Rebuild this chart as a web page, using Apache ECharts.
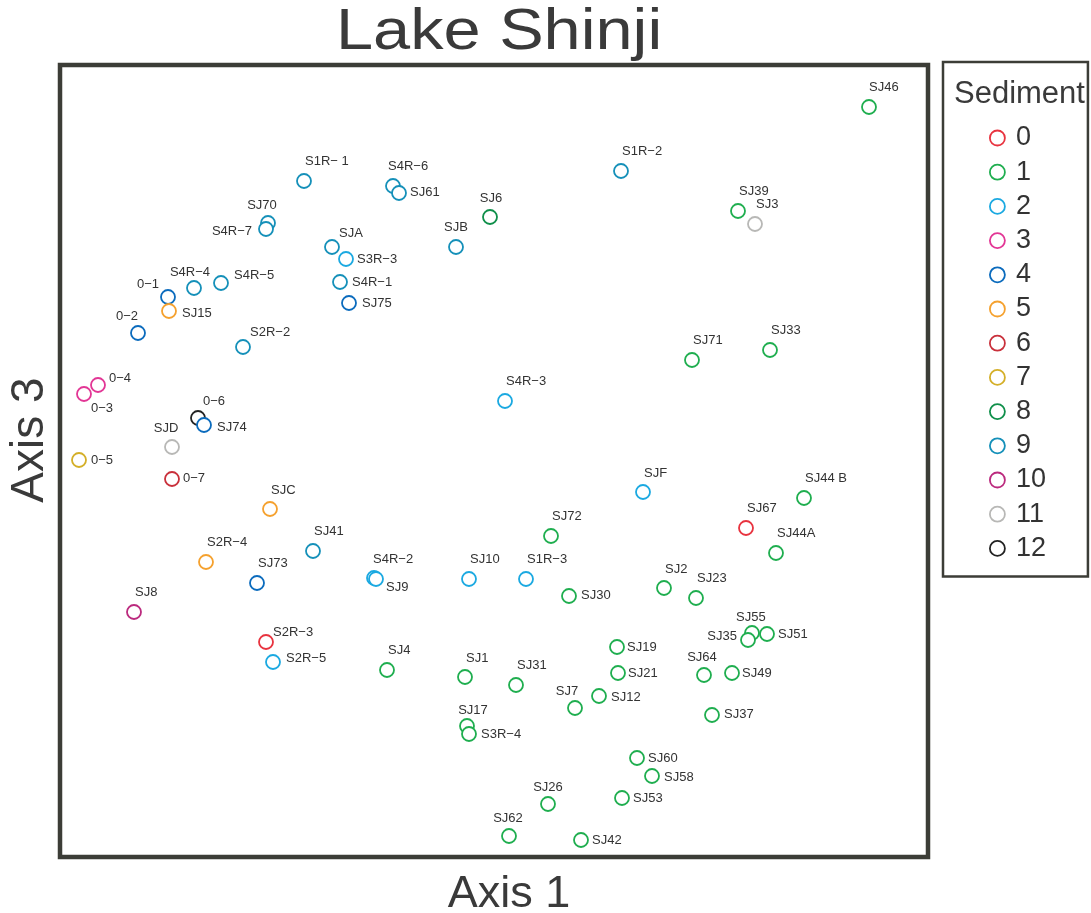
<!DOCTYPE html>
<html>
<head>
<meta charset="utf-8">
<script src="https://cdn.jsdelivr.net/npm/echarts@6/dist/echarts.min.js"></script>
<style>html,body{margin:0;padding:0;background:#fff;}#chart{width:1091px;height:913px;}</style>
</head>
<body>
<div id="chart"></div>
<script>
// ---- data (scores, arbitrary ordination units) ----
const sampleNames = ["SJ46","S1R−2","SJ39","SJ3","SJ71","SJ33","S1R− 1","S4R−6","SJ61","SJ6",
  "SJ70","S4R−7","SJB","SJA","S3R−3","S4R−1","SJ75","S4R−4","S4R−5","0−1",
  "SJ15","0−2","S2R−2","0−6","SJ74","0−4","0−3","SJD","0−5","0−7",
  "S4R−3","SJF","SJ44 B","SJ67","SJ44A","SJ72","SJC","SJ41","S2R−4","SJ73",
  "S4R−2","SJ9","SJ10","S1R−3","SJ30","SJ2","SJ23","SJ8","S2R−3","S2R−5",
  "SJ4","SJ1","SJ31","SJ19","SJ21","SJ7","SJ12","SJ55","SJ35","SJ51",
  "SJ64","SJ49","SJ37","SJ17","S3R−4","SJ60","SJ58","SJ53","SJ26","SJ62","SJ42"];
const axis1 = [809,561,678,695,632,710,244,333,339,430,
  208,206,396,272,286,280,289,134,161,108,
  109,78,183,138,144,38,24,112,19,112,
  445,583,744,686,716,491,210,253,146,197,
  314,316,409,466,509,604,636,74,206,213,
  327,405,456,557,558,515,539,692,688,707,
  644,672,652,407,409,577,592,562,488,449,521];
const axis3 = [750,686,646,633,497,507,676,671,664,640,
  634,628,610,610,598,575,554,569,574,560,
  546,524,510,439,432,472,463,410,397,378,
  456,365,359,329,304,321,348,306,295,274,
  279,278,278,278,261,269,259,245,215,195,
  187,180,172,210,184,149,161,224,217,223,
  182,184,142,131,123,99,81,59,53,21,17];
const sediment = [1,9,1,11,1,1,9,9,9,8,
  9,9,9,9,2,9,4,9,9,4,
  5,4,9,12,4,3,3,11,7,6,
  2,2,1,0,1,1,5,9,5,4,
  2,2,2,2,1,1,1,10,0,2,
  1,1,1,1,1,1,1,1,1,1,
  1,1,1,1,1,1,1,1,1,1,1];
const sedimentClasses = ["0","1","2","3","4","5","6","7","8","9","10","11","12"];

// ---- styling (label placement: [dx, dy, align] relative to marker centre) ----
const classColors = ["#e8333f","#1fae4f","#1ba9e1","#e23695","#0b6bbd","#f5a12e","#c9303b",
  "#d4af28","#0f8f4a","#1590b9","#bb2a7e","#b8b8b6","#222222"];
const labelPlacement = {
  "SJ46":[0,-20,"left"],"S1R−2":[1,-20,"left"],"SJ39":[1,-20,"left"],"SJ3":[1,-20,"left"],
  "SJ71":[1,-20,"left"],"SJ33":[1,-20,"left"],"S1R− 1":[1,-20,"left"],"S4R−6":[-5,-20,"left"],
  "SJ61":[11,-1,"left"],"SJ6":[1,-19,"center"],"SJ70":[-6,-18,"center"],"S4R−7":[-14,2,"right"],
  "SJB":[0,-20,"center"],"SJA":[7,-14,"left"],"S3R−3":[11,0,"left"],"S4R−1":[12,0,"left"],
  "SJ75":[13,0,"left"],"S4R−4":[-4,-16,"center"],"S4R−5":[13,-8,"left"],"0−1":[-9,-13,"right"],
  "SJ15":[13,2,"left"],"0−2":[0,-17,"right"],"S2R−2":[7,-15,"left"],"0−6":[5,-17,"left"],
  "SJ74":[13,2,"left"],"0−4":[11,-7,"left"],"0−3":[7,14,"left"],"SJD":[-6,-19,"center"],
  "0−5":[12,0,"left"],"0−7":[11,-1,"left"],"S4R−3":[1,-20,"left"],"SJF":[1,-19,"left"],
  "SJ44 B":[1,-20,"left"],"SJ67":[1,-20,"left"],"SJ44A":[1,-20,"left"],"SJ72":[1,-20,"left"],
  "SJC":[1,-19,"left"],"SJ41":[1,-20,"left"],"S2R−4":[1,-20,"left"],"SJ73":[1,-20,"left"],
  "S4R−2":[-1,-19,"left"],"SJ9":[10,8,"left"],"SJ10":[1,-20,"left"],"S1R−3":[1,-20,"left"],
  "SJ30":[12,-1,"left"],"SJ2":[1,-19,"left"],"SJ23":[1,-20,"left"],"SJ8":[1,-20,"left"],
  "S2R−3":[7,-10,"left"],"S2R−5":[13,-4,"left"],"SJ4":[1,-20,"left"],"SJ1":[1,-19,"left"],
  "SJ31":[1,-20,"left"],"SJ19":[10,0,"left"],"SJ21":[10,0,"left"],"SJ7":[-8,-17,"center"],
  "SJ12":[12,1,"left"],"SJ55":[-16,-16,"left"],"SJ35":[-11,-4,"right"],"SJ51":[11,0,"left"],
  "SJ64":[-2,-18,"center"],"SJ49":[10,0,"left"],"SJ37":[12,-1,"left"],"SJ17":[6,-16,"center"],
  "S3R−4":[12,0,"left"],"SJ60":[11,0,"left"],"SJ58":[12,1,"left"],"SJ53":[11,0,"left"],
  "SJ26":[0,-17,"center"],"SJ62":[-1,-18,"center"],"SJ42":[11,0,"left"]
};
const FONT = "'Liberation Sans', Arial, sans-serif";
const TXT = "#333333";

const series = sedimentClasses.map((cls, ci) => {
  const data = [];
  sampleNames.forEach((n, i) => {
    if (sediment[i] !== ci) return;
    const p = labelPlacement[n] || [10, 0, "left"];
    data.push({
      name: n,
      value: [axis1[i], axis3[i]],
      label: { offset: [p[0], p[1]], align: p[2] }
    });
  });
  return {
    name: cls,
    type: "scatter",
    symbol: "circle",
    symbolSize: 14,
    z: ci === 12 ? 1 : 2,
    itemStyle: { color: "#ffffff", borderColor: classColors[ci], borderWidth: 1.8, opacity: 1 },
    label: {
      show: true, position: "inside", formatter: "{b}", verticalAlign: "middle",
      color: TXT, fontSize: 13, fontFamily: FONT
    },
    emphasis: { disabled: true },
    data
  };
});

const chart = echarts.init(document.getElementById("chart"), null, { renderer: "canvas" });
chart.setOption({
  animation: false,
  backgroundColor: "#ffffff",
  title: [
    { text: "Sediment", left: 954, top: 79, padding: 0,
      textStyle: { fontSize: 31, fontWeight: "normal", color: "#3a3a3a", fontFamily: FONT } }
  ],
  graphic: [
    { type: "text", x: 336, y: 5, scaleX: 1.17, silent: true,
      style: { text: "Lake Shinji", fontSize: 57, fontFamily: FONT, fill: "#3a3a3a",
        align: "left", verticalAlign: "top" } }
  ],
  grid: { left: 60, top: 65, width: 868, height: 792, show: true, outerBoundsMode: "none",
    borderColor: "#3c3d37", borderWidth: 4.5, backgroundColor: "transparent", containLabel: false },
  xAxis: { type: "value", min: 0, max: 868, name: "Axis 1", nameLocation: "middle", nameGap: 15,
    nameTextStyle: { fontSize: 45, color: "#3a3a3a", fontFamily: FONT, padding: [0, 0, 0, 30] },
    axisLine: { show: false }, axisTick: { show: false }, axisLabel: { show: false }, splitLine: { show: false } },
  yAxis: { type: "value", min: 0, max: 792, name: "Axis 3", nameLocation: "middle", nameGap: 7,
    nameTextStyle: { fontSize: 46, color: "#3a3a3a", fontFamily: FONT, padding: [0, 0, 0, 42] },
    axisLine: { show: false }, axisTick: { show: false }, axisLabel: { show: false }, splitLine: { show: false } },
  legend: {
    orient: "vertical", left: 943, top: 62,
    padding: [62, 42, 14, 46],
    borderColor: "#3c3d37", borderWidth: 2.5,
    itemWidth: 15, itemHeight: 15, itemGap: 6.2,
    icon: "circle",
    itemStyle: { color: "#ffffff", borderWidth: 1.8 },
    textStyle: { fontSize: 27, lineHeight: 28, color: "#333333", fontFamily: FONT, padding: [0, 0, 0, 6] },
    selectedMode: false,
    data: sedimentClasses
  },
  series
});
</script>
</body>
</html>
